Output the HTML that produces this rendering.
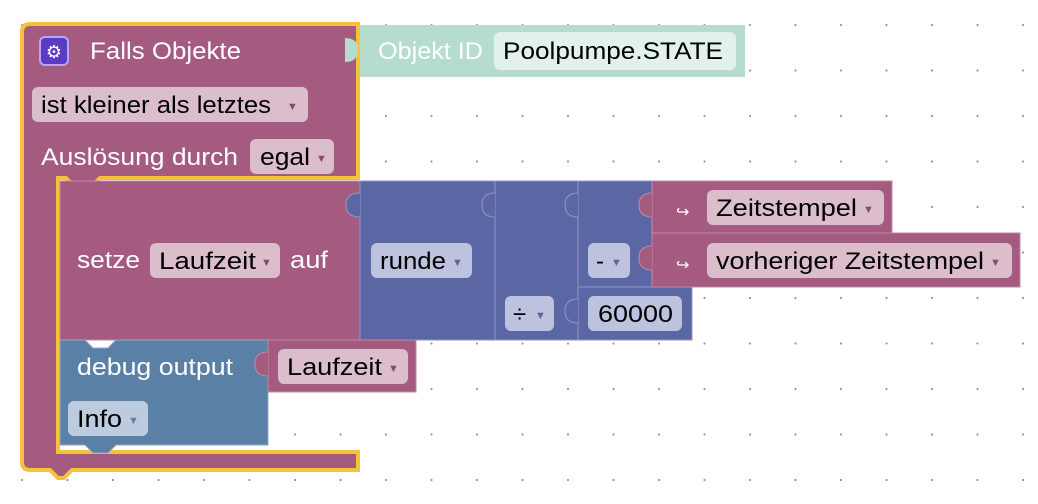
<!DOCTYPE html>
<html><head><meta charset="utf-8"><style>
body{margin:0;width:1038px;height:499px;overflow:hidden;background:#fff}
svg text{font-family:"Liberation Sans",sans-serif;font-size:24px}
</style></head><body>
<svg width="1038" height="499" xmlns="http://www.w3.org/2000/svg">
<defs><pattern id="g" x="20" y="23" width="45.5" height="45.5" patternUnits="userSpaceOnUse"><circle cx="2" cy="2" r="1.1" fill="#999"/></pattern></defs>
<rect width="1038" height="499" fill="url(#g)"/>
<!-- teal -->
<rect x="346" y="25" width="399" height="52" fill="#b5dccd"/>
<rect x="494" y="32" width="242" height="38" rx="6" fill="#e3f1ec"/>
<text x="378" y="59" fill="#fff" textLength="105" lengthAdjust="spacingAndGlyphs">Objekt ID</text>
<text x="503" y="59" fill="#000" textLength="220" lengthAdjust="spacingAndGlyphs">Poolpumpe.STATE</text>
<!-- outer block -->
<path d="M30,24 H358 V178 H100 L92,186 H74 L66,178 H58 V452 H358 V470 H72 L64,478 H58 L50,470 H30 Q22,470 22,462 V32 Q22,24 30,24 Z" fill="#a55b80" stroke="#f6c23e" stroke-width="4"/>
<path d="M345,38 Q358,38 358,50 Q358,62 345,62" fill="#b5dccd"/>
<rect x="40" y="37" width="28" height="28" rx="5" fill="#5b3bc4" stroke="#b9a6f0" stroke-width="2"/>
<text x="54" y="58" fill="#fff" text-anchor="middle" style="font-size:18px">⚙</text>
<text x="90" y="59" fill="#fff" textLength="151" lengthAdjust="spacingAndGlyphs">Falls Objekte</text>
<rect x="32" y="87" width="276" height="35" rx="6" fill="#dbbdcc"/>
<text x="41" y="113" fill="#000" textLength="230" lengthAdjust="spacingAndGlyphs">ist kleiner als letztes</text><text x="287" y="110" fill="#8a4a6a" style="font-size:11px">▼</text>
<text x="41" y="165" fill="#fff" textLength="197" lengthAdjust="spacingAndGlyphs">Auslösung durch</text>
<rect x="250" y="139" width="84" height="35" rx="6" fill="#dbbdcc"/>
<text x="260" y="165" fill="#000" textLength="50" lengthAdjust="spacingAndGlyphs">egal</text><text x="316" y="162" fill="#8a4a6a" style="font-size:11px">▼</text>
<!-- setze -->
<rect x="60" y="181" width="300" height="159" fill="#a55b80" stroke="#bf88a6" stroke-width="1"/>
<text x="77" y="268" fill="#fff" textLength="63" lengthAdjust="spacingAndGlyphs">setze</text>
<rect x="150" y="243" width="130" height="35" rx="6" fill="#dbbdcc"/>
<text x="159" y="269" fill="#000" textLength="97" lengthAdjust="spacingAndGlyphs">Laufzeit</text><text x="261" y="266" fill="#8a4a6a" style="font-size:11px">▼</text>
<text x="290" y="268" fill="#fff" textLength="38" lengthAdjust="spacingAndGlyphs">auf</text>
<!-- math -->
<rect x="360" y="181" width="135" height="159" fill="#5b67a5" stroke="#8f97c6"/>
<rect x="495" y="181" width="83" height="159" fill="#5b67a5" stroke="#8f97c6"/>
<rect x="578" y="181" width="74" height="106" fill="#5b67a5" stroke="#8f97c6"/>
<rect x="578" y="287" width="114" height="53" fill="#5b67a5" stroke="#8f97c6"/>
<path d="M360,193 Q346,193 346,205 Q346,217 360,217" fill="#5b67a5" stroke="#8f97c6"/>
<path d="M495,193 Q482,193 482,205 Q482,217 495,217" fill="#5b67a5" stroke="#8f97c6"/>
<path d="M578,193 Q565,193 565,205 Q565,217 578,217" fill="#5b67a5" stroke="#8f97c6"/>
<path d="M578,299 Q565,299 565,311 Q565,323 578,323" fill="#5b67a5" stroke="#8f97c6"/>
<rect x="371" y="243" width="101" height="35" rx="6" fill="#bdc2de"/>
<text x="380" y="269" fill="#000" textLength="66" lengthAdjust="spacingAndGlyphs">runde</text><text x="452" y="266" fill="#5b67a5" style="font-size:11px">▼</text>
<rect x="505" y="296" width="49" height="35" rx="6" fill="#bdc2de"/>
<text x="513" y="322" fill="#000">÷</text><text x="535" y="319" fill="#5b67a5" style="font-size:11px">▼</text>
<rect x="588" y="243" width="42" height="35" rx="6" fill="#bdc2de"/>
<text x="596" y="269" fill="#000">-</text><text x="611" y="266" fill="#5b67a5" style="font-size:11px">▼</text>
<rect x="588" y="296" width="94" height="35" rx="6" fill="#bdc2de"/>
<text x="598" y="322" fill="#000" textLength="75" lengthAdjust="spacingAndGlyphs">60000</text>
<!-- zeitstempel -->
<rect x="652" y="181" width="240" height="52" fill="#a55b80" stroke="#bf88a6"/>
<rect x="652" y="233" width="368" height="54" fill="#a55b80" stroke="#bf88a6"/>
<path d="M652,193 Q639,193 639,205 Q639,217 652,217" fill="#a55b80" stroke="#bf88a6"/>
<path d="M652,246 Q639,246 639,258 Q639,270 652,270" fill="#a55b80" stroke="#bf88a6"/>
<text x="676" y="217" fill="#fff" style="font-size:16px">↪</text>
<text x="676" y="270" fill="#fff" style="font-size:16px">↪</text>
<rect x="707" y="190" width="177" height="35" rx="6" fill="#dbbdcc"/>
<text x="716" y="216" fill="#000" textLength="141" lengthAdjust="spacingAndGlyphs">Zeitstempel</text><text x="863" y="213" fill="#8a4a6a" style="font-size:11px">▼</text>
<rect x="707" y="243" width="305" height="35" rx="6" fill="#dbbdcc"/>
<text x="716" y="269" fill="#000" textLength="268" lengthAdjust="spacingAndGlyphs">vorheriger Zeitstempel</text><text x="990" y="266" fill="#8a4a6a" style="font-size:11px">▼</text>
<!-- debug -->
<path d="M60,340 H85 L93,348 H108 L116,340 H268 V445 H116 L108,453 H93 L85,445 H60 Z" fill="#5b80a5" stroke="#8fa8c6"/>
<text x="77" y="375" fill="#fff" textLength="156" lengthAdjust="spacingAndGlyphs">debug output</text>
<rect x="68" y="401" width="80" height="35" rx="6" fill="#bdcbde"/>
<text x="77" y="427" fill="#000" textLength="45" lengthAdjust="spacingAndGlyphs">Info</text><text x="128" y="424" fill="#5b80a5" style="font-size:11px">▼</text>
<rect x="268" y="340" width="148" height="52" fill="#a55b80" stroke="#bf88a6"/>
<path d="M268,352 Q255,352 255,364 Q255,376 268,376" fill="#a55b80" stroke="#bf88a6"/>
<rect x="278" y="349" width="130" height="35" rx="6" fill="#dbbdcc"/>
<text x="287" y="375" fill="#000" textLength="95" lengthAdjust="spacingAndGlyphs">Laufzeit</text><text x="388" y="372" fill="#8a4a6a" style="font-size:11px">▼</text>
</svg>
</body></html>
